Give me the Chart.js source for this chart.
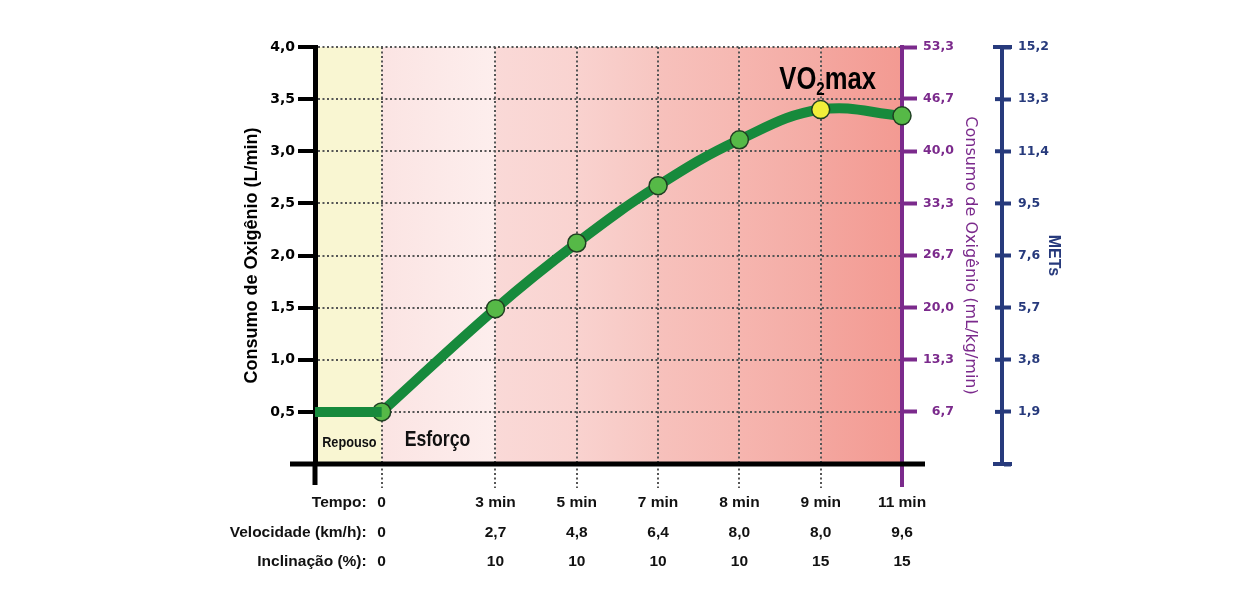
<!DOCTYPE html>
<html>
<head>
<meta charset="utf-8">
<script src="https://cdn.jsdelivr.net/npm/chart.js@4"></script>
<style>
html,body{margin:0;padding:0;background:#ffffff;}
#wrap{position:relative;width:1253px;height:596px;}
</style>
</head>
<body>
<div id="wrap"><canvas id="c" width="1253" height="596"></canvas></div>
<script>
// ---- data ----
const stageTimes  = ['0', '3 min', '5 min', '7 min', '8 min', '9 min', '11 min'];
const stageSpeeds = ['0', '2,7', '4,8', '6,4', '8,0', '8,0', '9,6'];
const stageGrades = ['0', '10', '10', '10', '10', '15', '15'];
const stageX      = [0, 1.4, 2.4, 3.4, 4.4, 5.4, 6.4];
const vo2Lmin     = [0.5, 1.49, 2.12, 2.67, 3.11, 3.40, 3.34];
const restX       = [-0.82, 0];
const restVo2     = [0.5, 0.5];
const rowLabels   = ['Tempo:', 'Velocidade (km/h):', 'Inclinação (%):'];
const leftTicks   = [0, 0.5, 1.0, 1.5, 2.0, 2.5, 3.0, 3.5, 4.0];
const mlkgTicks   = [0, 6.7, 13.3, 20.0, 26.7, 33.3, 40.0, 46.7, 53.3];
const metsTicks   = [0, 1.9, 3.8, 5.7, 7.6, 9.5, 11.4, 13.3, 15.2];
const vo2maxIndex = 5;

// ---- styles ----
const GREEN = '#178a3c', LGREEN = '#56b947', YELLOW = '#f2ee3a';
const PURPLE = '#7b2a8c', NAVY = '#273a7c', DOT = '#555555';
const SANS = '"Liberation Sans", Arial, sans-serif';
const DEJA = '"DejaVu Sans", sans-serif';
const BANDS = [
  ['#fbe4e3', '#fdeeed'],
  ['#fad9d7', '#f9d3d0'],
  ['#f9d2cf', '#f7c6c1'],
  ['#f7c1bc', '#f6b8b2'],
  ['#f6b5af', '#f4aba4'],
  ['#f4a69f', '#f39a92']
];
const X_LH = 29.5;
const fmt = v => v.toFixed(1).replace('.', ',');
const pad4 = s => (s.length < 4 ? '\u2007' + s : s);

function seg(ctx, x1, y1, x2, y2) {
  ctx.beginPath(); ctx.moveTo(x1, y1); ctx.lineTo(x2, y2); ctx.stroke();
}
function condText(ctx, text, x, y, font, sx, align) {
  ctx.save();
  ctx.font = font;
  const w = ctx.measureText(text).width * sx;
  const left = align === 'center' ? x - w / 2 : (align === 'right' ? x - w : x);
  ctx.translate(left, y);
  ctx.scale(sx, 1);
  ctx.textAlign = 'left';
  ctx.fillText(text, 0, 0);
  ctx.restore();
  return w;
}
function condWidth(ctx, text, font, sx) {
  ctx.save(); ctx.font = font; const w = ctx.measureText(text).width * sx; ctx.restore(); return w;
}

const decor = {
  id: 'decor',
  beforeDraw(chart) {
    const {ctx, chartArea: a} = chart;
    const x = chart.scales.x;
    const x0 = x.getPixelForValue(stageX[0]);
    ctx.save();
    ctx.fillStyle = '#f9f6d2';
    ctx.fillRect(a.left, a.top, x0 - a.left, a.bottom - a.top);
    for (let i = 0; i < stageX.length - 1; i++) {
      const xa = x.getPixelForValue(stageX[i]);
      const xb = x.getPixelForValue(stageX[i + 1]);
      const g = ctx.createLinearGradient(xa, 0, xb, 0);
      g.addColorStop(0, BANDS[i][0]);
      g.addColorStop(1, BANDS[i][1]);
      ctx.fillStyle = g;
      ctx.fillRect(xa, a.top, xb - xa, a.bottom - a.top);
    }
    ctx.restore();
  },
  afterDraw(chart) {
    const {ctx, chartArea: a} = chart;
    const x = chart.scales.x, y3 = chart.scales.y3;
    const x0 = x.getPixelForValue(stageX[0]);
    ctx.save();
    // purple axis extension below the baseline
    ctx.strokeStyle = PURPLE; ctx.lineWidth = 4;
    seg(ctx, a.right, a.bottom, a.right, a.bottom + 23);
    // left black axis extension and horizontal axis
    ctx.strokeStyle = '#000'; ctx.lineWidth = 5;
    seg(ctx, a.left, a.bottom, a.left, a.bottom + 21);
    seg(ctx, a.left - 25, a.bottom, a.right + 23, a.bottom);
    // METs cross ticks
    ctx.strokeStyle = NAVY; ctx.lineWidth = 4;
    const bx = y3.left;
    y3.ticks.forEach((t, i) => {
      const py = y3.getPixelForValue(t.value);
      const cap = (i === 0 || i === y3.ticks.length - 1);
      seg(ctx, bx - (cap ? 9 : 7), py, bx + (cap ? 10 : 0), py);
    });
    // row labels under the x axis
    ctx.fillStyle = '#111';
    ctx.font = 'bold 15.5px ' + SANS;
    ctx.textAlign = 'right';
    ctx.textBaseline = 'middle';
    const ry = a.bottom + 24 + X_LH / 2;
    rowLabels.forEach((t, i) => ctx.fillText(t, x0 - 15, ry + i * X_LH));
    // phase labels
    ctx.textBaseline = 'alphabetic';
    ctx.fillStyle = '#111';
    condText(ctx, 'Repouso', (a.left + x0) / 2 + 1, a.bottom - 17, 'bold 15.5px ' + SANS, 0.82, 'center');
    condText(ctx, 'Esforço', x0 + 23, a.bottom - 18, 'bold 21.5px ' + SANS, 0.82, 'left');
    // VO2max annotation
    const p = chart.getDatasetMeta(1).data[vo2maxIndex];
    const big = 'bold 32px ' + SANS, small = 'bold 19px ' + SANS, sx = 0.8;
    const w1 = condWidth(ctx, 'VO', big, sx), w2 = condWidth(ctx, '2', small, sx), w3 = condWidth(ctx, 'max', big, sx);
    const start = p.x + 7 - (w1 + w2 + w3) / 2;
    const by = p.y - 21;
    ctx.fillStyle = '#000';
    condText(ctx, 'VO', start, by, big, sx, 'left');
    condText(ctx, '2', start + w1, by + 6, small, sx, 'left');
    condText(ctx, 'max', start + w1 + w2, by, big, sx, 'left');
    ctx.restore();
  }
};

new Chart(document.getElementById('c'), {
  type: 'line',
  data: {
    datasets: [
      {
        data: restX.map((v, i) => ({x: v, y: restVo2[i]})),
        borderColor: GREEN, borderWidth: 10, pointRadius: 0, tension: 0,
        clip: false, yAxisID: 'y', xAxisID: 'x'
      },
      {
        data: stageX.map((v, i) => ({x: v, y: vo2Lmin[i]})),
        borderColor: GREEN, borderWidth: 10, tension: 0.4,
        pointRadius: 9, pointHoverRadius: 9,
        pointBackgroundColor: c => c.dataIndex === vo2maxIndex ? YELLOW : LGREEN,
        pointBorderColor: '#1f3f22', pointBorderWidth: 1.5,
        clip: false, yAxisID: 'y', xAxisID: 'x'
      }
    ]
  },
  options: {
    responsive: false,
    animation: false,
    devicePixelRatio: 1,
    layout: {padding: {left: 241, right: 190, top: 47, bottom: 0}},
    plugins: {legend: {display: false}, tooltip: {enabled: false}},
    scales: {
      x: {
        type: 'linear', position: 'bottom', min: -0.82, max: 6.4,
        afterBuildTicks: s => { s.ticks = stageX.map(v => ({value: v})); },
        afterFit: s => { s.height = 132; },
        border: {display: false, dash: [2, 2.5]},
        grid: {
          color: c => c.index === stageX.length - 1 ? 'rgba(0,0,0,0)' : DOT,
          lineWidth: 2,
          drawTicks: true, tickLength: 24,
          tickColor: c => c.index === stageX.length - 1 ? 'rgba(0,0,0,0)' : DOT,
          tickWidth: 2, tickBorderDash: [2, 2.5]
        },
        ticks: {
          autoSkip: false, maxRotation: 0, minRotation: 0, padding: 0, color: '#111',
          font: {family: SANS, size: 15.5, weight: 'bold', lineHeight: X_LH / 15.5},
          callback: (v, i) => [stageTimes[i], stageSpeeds[i], stageGrades[i]]
        }
      },
      y: {
        type: 'linear', position: 'left', min: 0, max: 4,
        afterBuildTicks: s => { s.ticks = leftTicks.map(v => ({value: v})); },
        afterFit: s => { s.width = 74; },
        border: {display: true, color: '#000', width: 5, dash: [2, 2.5]},
        grid: {
          color: c => c.index === 0 ? 'rgba(0,0,0,0)' : DOT,
          lineWidth: 2,
          tickLength: 17, tickColor: '#000', tickWidth: 4, tickBorderDash: []
        },
        ticks: {
          padding: 3, color: '#000',
          font: {family: DEJA, size: 14, weight: 'bold'},
          callback: v => v === 0 ? '' : fmt(v)
        },
        title: {
          display: true, text: 'Consumo de Oxigênio (L/min)', color: '#000',
          font: {family: SANS, size: 18, weight: 'bold'}, padding: {top: 0, bottom: 0}
        }
      },
      y2: {
        type: 'linear', position: 'right', min: 0, max: 53.3,
        afterBuildTicks: s => { s.ticks = mlkgTicks.map(v => ({value: v})); },
        afterFit: s => { s.width = 100; },
        border: {display: true, color: PURPLE, width: 4},
        grid: {
          drawOnChartArea: false, tickLength: 15,
          tickColor: c => c.index === 0 ? 'rgba(0,0,0,0)' : PURPLE, tickWidth: 4
        },
        ticks: {
          padding: 6, crossAlign: 'near', color: PURPLE,
          font: {family: DEJA, size: 12.5, weight: 'bold'},
          callback: v => v === 0 ? '' : pad4(fmt(v))
        },
        title: {
          display: true, text: 'Consumo de Oxigênio (mL/kg/min)', color: PURPLE,
          font: {family: DEJA, size: 16}, padding: {top: 22.4, bottom: 0}
        }
      },
      y3: {
        type: 'linear', position: 'right', min: 0, max: 15.2,
        afterBuildTicks: s => { s.ticks = metsTicks.map(v => ({value: v})); },
        afterFit: s => { s.width = 61; },
        border: {display: true, color: NAVY, width: 4},
        grid: {drawOnChartArea: false, tickLength: 9, tickColor: NAVY, tickWidth: 4},
        ticks: {
          padding: 7, color: NAVY,
          font: {family: DEJA, size: 12.5, weight: 'bold'},
          callback: v => v === 0 ? '' : fmt(v)
        },
        title: {
          display: true, text: 'METs', color: NAVY,
          font: {family: SANS, size: 16, weight: 'bold'}, padding: {top: 0, bottom: 0}
        }
      }
    }
  },
  plugins: [decor]
});
</script>
</body>
</html>
